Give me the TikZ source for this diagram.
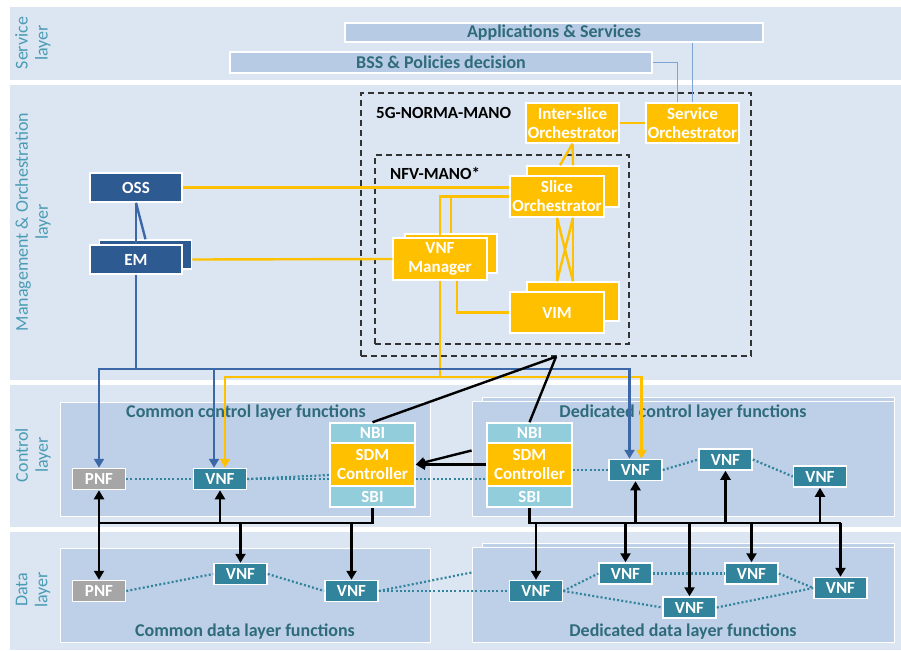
\documentclass[tikz,border=0pt]{standalone}
\usepackage{fontspec}
\setmainfont{Carlito}
\usetikzlibrary{arrows.meta}

\definecolor{bandblue}{HTML}{DCE6F2}
\definecolor{panelblue}{HTML}{BDD0E8}
\definecolor{barblue}{HTML}{B7CBE4}
\definecolor{labelteal}{HTML}{4A9CB5}
\definecolor{titleteal}{HTML}{2F6B7B}
\definecolor{manoyellow}{HTML}{FFC000}
\definecolor{ossblue}{HTML}{2E5A92}
\definecolor{lineblue}{HTML}{3C68A8}
\definecolor{vnfteal}{HTML}{31849B}
\definecolor{pnfgray}{HTML}{A6A6A6}
\definecolor{ifcyan}{HTML}{92CDDC}
\definecolor{dashgray}{HTML}{333333}
\definecolor{svcline}{HTML}{7FA3D3}

\tikzset{
  band/.style={fill=bandblue, draw=none},
  panel/.style={fill=panelblue, draw=white, line width=0.8pt},
  bar/.style={fill=barblue, draw=white, line width=1.5pt, text=titleteal, inner sep=0pt,
    font=\bfseries\fontsize{18}{20}\selectfont},
  layertext/.style={rotate=90, align=center, text=labelteal, font=\fontsize{18}{20}\selectfont},
  paneltitle/.style={text=titleteal, inner sep=0pt, font=\bfseries\fontsize{18}{20}\selectfont},
  manotitle/.style={anchor=west, inner sep=0pt, font=\bfseries\fontsize{17}{19}\selectfont},
  box/.style={draw=white, line width=1.5pt, text=white, align=center, inner sep=0pt,
    font=\bfseries\fontsize{17}{19}\selectfont},
  manobox/.style={box, fill=manoyellow},
  ossbox/.style={box, fill=ossblue, minimum width=92pt, minimum height=29pt},
  vnfbox/.style={box, fill=vnfteal, minimum width=53pt, minimum height=21pt},
  pnfbox/.style={vnfbox, fill=pnfgray},
  ifbox/.style={box, fill=ifcyan, minimum width=85pt},
  sdmbox/.style={box, fill=manoyellow, minimum width=85pt, minimum height=43pt},
  dashbox/.style={draw=dashgray, line width=1.5pt, dash pattern=on 6pt off 4pt},
  yline/.style={draw=manoyellow, line width=2.4pt},
  bline/.style={draw=lineblue, line width=2.4pt},
  sline/.style={draw=svcline, line width=1.6pt},
  kline/.style={draw=black, line width=2.4pt},
  dotline/.style={draw=vnfteal, line width=2.2pt, dash pattern=on 2pt off 2.2pt},
  tip/.style={-{Triangle[length=9pt,width=10pt]}},
  tips/.style={{Triangle[length=9pt,width=10pt]}-{Triangle[length=9pt,width=10pt]}},
}

\begin{document}
\begin{tikzpicture}[x=1pt,y=-1pt]
            \useasboundingbox (0,0) rectangle (901,650);

            \fill[band] (10,7) rectangle (901,80);
            \fill[band] (10,85) rectangle (901,380);
            \fill[band] (10,385) rectangle (901,527);
            \fill[band] (10,532) rectangle (901,650);

            \node[layertext] (lsvc) at (33,43) {Service\\layer};
            \node[layertext] (lmgmt) at (33,222) {Management \& Orchestration\\layer};
            \node[layertext] (lctrl) at (33,455) {Control\\layer};
            \node[layertext] (ldata) at (33,590) {Data\\layer};

            \node[panel, minimum width=370pt, minimum height=114pt] (cctrl) at (245,459) {};
            \node[panel, minimum width=412pt, minimum height=115pt] (dctrlb) at (688,454.5) {};
            \node[panel, minimum width=422pt, minimum height=115pt] (dctrl) at (683,458.5) {};
            \node[panel, minimum width=370pt, minimum height=94pt] (cdata) at (245,595) {};
            \node[panel, minimum width=412pt, minimum height=95pt] (ddatab) at (688,590.5) {};
            \node[panel, minimum width=422pt, minimum height=95pt] (ddata) at (683,594.5) {};

            \node[paneltitle] (cctrlt) at (246,413) {Common control layer functions};
            \node[paneltitle] (dctrlt) at (683,413) {Dedicated control layer functions};
            \node[paneltitle] (cdatat) at (245,632) {Common data layer functions};
            \node[paneltitle] (ddatat) at (683,632) {Dedicated data layer functions};

            \node[bar, minimum width=418pt, minimum height=19pt] (apps) at (554,32.5) {Applications \& Services};
            \node[bar, minimum width=422pt, minimum height=21pt] (bss) at (441,62.5) {BSS \& Policies decision};

            \node[dashbox, minimum width=390pt, minimum height=263pt] (norma) at (556,224.5) {};
            \node[dashbox, minimum width=254pt, minimum height=189pt] (nfv) at (502,249.5) {};
            \node[manotitle] (normat) at (376,113) {5G-NORMA-MANO};
            \node[manotitle] (nfvt) at (390,173) {NFV-MANO*};

            \node[manobox, minimum width=93pt, minimum height=40pt] (inter) at (572.5,123) {Inter-slice\\Orchestrator};
            \node[manobox, minimum width=93pt, minimum height=40pt] (svc) at (692.5,123) {Service\\Orchestrator};
            \node[manobox, minimum width=92pt, minimum height=41pt] (sliceb) at (573,186.5) {};
            \node[manobox, minimum width=94pt, minimum height=41pt] (slicef) at (557,196.5) {Slice\\Orchestrator};
            \node[manobox, minimum width=92pt, minimum height=39pt] (vnfmb) at (451,253.5) {};
            \node[manobox, minimum width=94pt, minimum height=42pt] (vnfmf) at (440,259) {VNF\\Manager};
            \node[manobox, minimum width=92pt, minimum height=39pt] (vimb) at (573,301.5) {};
            \node[manobox, minimum width=94pt, minimum height=41pt] (vimf) at (557,312.5) {VIM};

            \node[ossbox] (oss) at (136,187.5) {OSS};
            \node[ossbox] (emb) at (145.5,254.5) {};
            \node[ossbox] (emf) at (136,259.5) {EM};

            \node[pnfbox] (cpnf) at (99,479) {PNF};
            \node[vnfbox] (cvnf) at (220,479) {VNF};
            \node[ifbox, minimum height=20pt] (cnbi) at (372.5,433) {NBI};
            \node[sdmbox] (csdm) at (372.5,464.5) {SDM\\Controller};
            \node[ifbox, minimum height=21pt] (csbi) at (372.5,496.5) {SBI};
            \node[ifbox, minimum height=20pt] (dnbi) at (529.5,433) {NBI};
            \node[sdmbox] (dsdm) at (529.5,464.5) {SDM\\Controller};
            \node[ifbox, minimum height=21pt] (dsbi) at (529.5,496.5) {SBI};
            \node[vnfbox] (dvnf1) at (635.5,470) {VNF};
            \node[vnfbox] (dvnf2) at (725.5,459.5) {VNF};
            \node[vnfbox] (dvnf3) at (820,476.5) {VNF};

            \node[pnfbox] (dpnf) at (99,591) {PNF};
            \node[vnfbox] (cdvnf1) at (240.5,574) {VNF};
            \node[vnfbox] (cdvnf2) at (351.5,591) {VNF};
            \node[vnfbox] (ddvnf1) at (536,591) {VNF};
            \node[vnfbox] (ddvnf2) at (625.5,573.5) {VNF};
            \node[vnfbox] (ddvnf3) at (689.5,607.5) {VNF};
            \node[vnfbox] (ddvnf4) at (751.5,573.5) {VNF};
            \node[vnfbox] (ddvnf5) at (840.5,588) {VNF};

            \coordinate (ybus) at (0,377);
            \coordinate (bbus) at (0,369);
            \coordinate (cbus) at (0,523);
            \coordinate (cvy) at ([xshift=5pt]cvnf.north);
            \coordinate (dvy) at ([xshift=6pt]dvnf1.north);
            \coordinate (cvb) at ([xshift=-6pt]cvnf.north);
            \coordinate (dvb) at ([xshift=-6pt]dvnf1.north);

            \draw[sline] (bss.east) -| ([xshift=-15pt]svc.north);
            \draw[sline] (apps.south -| svc.north) -- (svc.north);

            \draw[yline] (inter.east) -- (svc.west);
            \draw[yline] (inter.south) -- (sliceb.north);
            \draw[yline] (inter.south) -- ([xshift=-13pt]sliceb.north);
            \draw[yline] (oss.east) -- (oss.east -| slicef.west);
            \draw[yline] (emb.east |- emf.east) -- (vnfmf.west);
            \draw[yline] (slicef.west) -| (vnfmf.north);
            \draw[yline] (slicef.west -| vnfmb.north) -- (vnfmb.north);
            \draw[yline] (slicef.south) -- (slicef.south |- vimb.north);
            \draw[yline] (slicef.south -| sliceb.south) -- (vimb.north);
            \draw[yline] (slicef.south) -- (vimb.north);
            \draw[yline] (slicef.south -| sliceb.south) -- (slicef.south |- vimb.north);
            \draw[yline] ([xshift=17pt]vnfmf.south) |- (vimf.west);
            \draw[yline] (vnfmf.south) -- (vnfmf.south |- ybus);
            \draw[yline,tips] (cvy) |- (ybus -| dvy) -- (dvy);

            \draw[bline] (oss.south) -- (emf.north);
            \draw[bline] (oss.south) -- (emb.north);
            \draw[bline] (emf.south) -- (emf.south |- bbus);
            \draw[bline,tips] (cpnf.north) |- (bbus -| dvb) -- (dvb);
            \draw[bline,tip] (bbus -| cvb) -- (cvb);

            \draw[kline] (norma.south) -- (cnbi.north);
            \draw[kline] (norma.south) -- (dnbi.north);
            \draw[kline,tip] (dsdm.west) -- (csdm.east);
            \draw[kline,tip] ([yshift=8pt]dctrl.west) -- (csdm.east);

            \draw[dotline] (cpnf.east) -- (cvnf.west);
            \draw[dotline] (cvnf.east) -- (cvnf.east -| csdm.west);
            \draw[dotline] (cvnf.east) -- ([yshift=4pt]cvnf.east -| csdm.west);
            \draw[dotline] (cvnf.east -| csdm.east) -- (cvnf.east -| dsdm.west);
            \draw[dotline] (dvnf1.west -| dsdm.east) -- (dvnf1.west);
            \draw[dotline] (dvnf1.east) -- (dvnf2.west);
            \draw[dotline] (dvnf2.east) -- (dvnf3.west);
            \draw[dotline] (dpnf.east) -- (cdvnf1.west);
            \draw[dotline] (cdvnf1.east) -- (cdvnf2.west);
            \draw[dotline] (cdvnf2.east) -- (ddvnf1.west);
            \draw[dotline] (cdvnf2.east) -- ([yshift=22pt]ddata.west);
            \draw[dotline] (ddvnf1.east) -- (ddvnf2.west);
            \draw[dotline] (ddvnf1.east) -- (ddvnf3.west);
            \draw[dotline] (ddvnf2.east) -- (ddvnf4.west);
            \draw[dotline] (ddvnf3.east) -- (ddvnf5.west);
            \draw[dotline] (ddvnf4.east) -- (ddvnf5.west);

            \draw[kline] (csbi.south) |- (cbus -| cpnf.south);
            \draw[kline,tips] (cpnf.south) -- (dpnf.north);
            \draw[kline,tip] (cbus -| cvnf.south) -- (cvnf.south);
            \draw[kline,tip] (cbus -| cdvnf1.north) -- (cdvnf1.north);
            \draw[kline,tip] (cbus -| cdvnf2.north) -- (cdvnf2.north);

            \draw[kline] (dsbi.south) |- (cbus -| ddvnf5.north);
            \draw[kline,tip] (cbus -| dvnf1.south) -- (dvnf1.south);
            \draw[kline,tip] (cbus -| dvnf2.south) -- (dvnf2.south);
            \draw[kline,tip] (cbus -| dvnf3.south) -- (dvnf3.south);
            \draw[kline,tip] (cbus -| ddvnf1.north) -- (ddvnf1.north);
            \draw[kline,tip] (cbus -| ddvnf2.north) -- (ddvnf2.north);
            \draw[kline,tip] (cbus -| ddvnf3.north) -- (ddvnf3.north);
            \draw[kline,tip] (cbus -| ddvnf4.north) -- (ddvnf4.north);
            \draw[kline,tip] (cbus -| ddvnf5.north) -- (ddvnf5.north);
        \end{tikzpicture}
\end{document}
